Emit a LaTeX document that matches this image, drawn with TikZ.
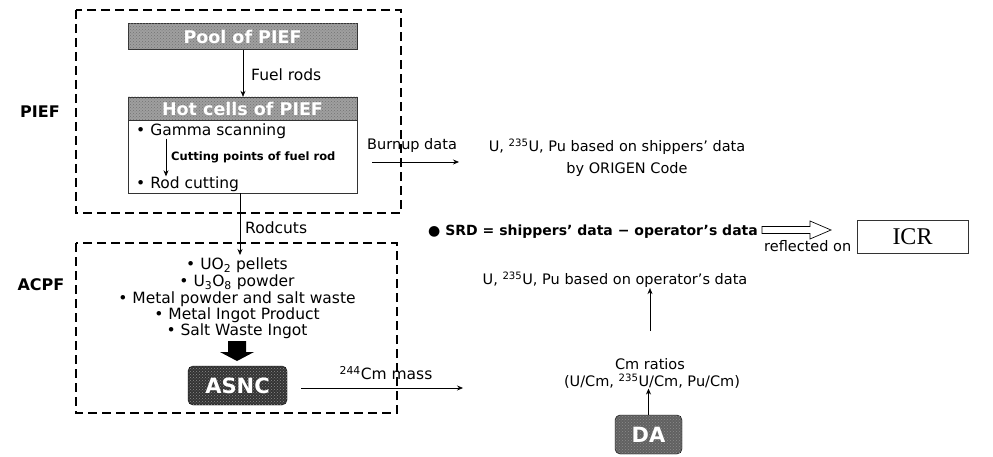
\documentclass[tikz,border=0pt]{standalone}
\usepackage{fontspec}
\setmainfont{DejaVu Sans}
\newfontfamily\serifface{Liberation Serif}
\usetikzlibrary{arrows.meta,patterns}
\begin{document}
\begin{tikzpicture}[x=1pt,y=-1pt,font=\fontsize{15}{17}\selectfont,
  dbox/.style={draw,line width=1.8pt,dash pattern=on 9pt off 5pt},
  graybox/.style={draw=black!80,fill=gray!75,text=white,inner sep=0pt,font=\bfseries\fontsize{17.5}{19}\selectfont,
    postaction={pattern=crosshatch dots,pattern color=black!55}},
  darkbox/.style={draw=black,fill=black!80,text=white,rounded corners=5pt,inner sep=0pt,font=\bfseries\fontsize{21}{23}\selectfont,
    postaction={pattern=crosshatch dots,pattern color=black!45}},
  arr/.style={-{Stealth[length=6pt,width=5pt]},line width=0.7pt},
  txt/.style={inner sep=0pt},
  ltxt/.style={inner sep=0pt,font=\fontsize{15.5}{17}\selectfont},
  rtxt/.style={inner sep=0pt,font=\fontsize{14.5}{16}\selectfont},
  side/.style={inner sep=0pt,font=\bfseries\fontsize{16}{18}\selectfont}]
\useasboundingbox (0,0) rectangle (993,457);
% dashed boxes
\draw[dbox] (76,10) rectangle (401,213);
\draw[dbox] (76,243) rectangle (397,413);
\node[side] (piefl) at (40,112) {PIEF};
\node[side] (acpfl) at (41,285) {ACPF};
% PIEF internals
\node[graybox,minimum width=229pt,minimum height=26pt] (pool) at (242.5,36.5) {Pool of PIEF};
\node[graybox,minimum width=229pt,minimum height=23pt] (hot) at (242.5,108.5) {Hot cells of PIEF};
\node[draw=black!80,line width=0.6pt,minimum width=229pt,minimum height=73pt,inner sep=0pt] (hotbody) at (242.5,156.5) {};
\draw[arr] (pool.south -| 243,0) -- (hot.north -| 243,0);
\node[ltxt,anchor=west] (fuel) at (251,75) {Fuel rods};
\node[ltxt,anchor=west] (gamma) at (136,131) {\textbullet\ Gamma scanning};
\node[ltxt,anchor=west] (rodcut) at (136,184) {\textbullet\ Rod cutting};
\draw[arr,line width=0.6pt] (gamma.south -| 166,0) -- (rodcut.north -| 166,0);
\node[txt,anchor=west,font=\bfseries\fontsize{11.5}{13}\selectfont] (cutpts) at (171,157) {Cutting points of fuel rod};
% ACPF internals
\node[ltxt] (uo2) at (237,265) {\textbullet\ UO\textsubscript{2} pellets};
\node[ltxt] (u3o8) at (237,282) {\textbullet\ U\textsubscript{3}O\textsubscript{8} powder};
\node[ltxt] (metal) at (237,299) {\textbullet\ Metal powder and salt waste};
\node[ltxt] (ingot) at (237,315) {\textbullet\ Metal Ingot Product};
\node[ltxt] (salt) at (237,331) {\textbullet\ Salt Waste Ingot};
\draw[arr] (hotbody.south -| 240,0) -- (240,255);
\node[ltxt,anchor=west] (rodcuts) at (245,228) {Rodcuts};
\fill (228,341) -- (246,341) -- (246,352) -- (254,352) -- (237,361) -- (220,352) -- (228,352) -- cycle;
\node[darkbox,minimum width=99pt,minimum height=39pt] (asnc) at (237.5,385.5) {ASNC};
\coordinate (cmend) at (463,388);
\draw[arr] ([xshift=14pt]asnc.east |- cmend) -- (cmend);
\node[ltxt] (cmmass) at (386,373) {\textsuperscript{244}Cm mass};
% burnup
\coordinate (bstart) at (372,162);
\coordinate (bend) at (459,162);
\draw[arr] (bstart) -- (bend);
\node[rtxt,anchor=west] (burnup) at (367,146) {Burnup data};
\node[rtxt] (ship) at (617,147) {U, \textsuperscript{235}U, Pu based on shippers' data};
\node[rtxt] (origen) at (627,170) {by ORIGEN Code};
% SRD
\node[txt,anchor=west,font=\bfseries\fontsize{14}{16}\selectfont] (srd) at (428,232) {● SRD = shippers' data − operator's data};
\draw[line width=0.7pt] (762,226.5) -- (810,226.5) -- (810,221) -- (831,230) -- (810,239) -- (810,233.5) -- (762,233.5) -- cycle;
\node[rtxt,anchor=west] (refl) at (764,246) {reflected on};
\node[draw=black!80,line width=0.7pt,minimum width=111pt,minimum height=33pt,inner sep=0pt,font=\serifface\fontsize{24}{26}\selectfont] (icr) at (912.5,236.5) {ICR};
% operator side
\node[rtxt] (oper) at (615,280) {U, \textsuperscript{235}U, Pu based on operator's data};
\node[rtxt] (cmrat) at (650,364) {Cm ratios};
\node[rtxt] (cmpar) at (652,381) {(U/Cm, \textsuperscript{235}U/Cm, Pu/Cm)};
\draw[arr] (650,331) -- (oper.south -| 650,0);
\node[darkbox,fill=black!62,minimum width=67pt,minimum height=39pt] (da) at (648.5,434.5) {DA};
\draw[arr] (da.north) -- (cmpar.south -| da.north);
\end{tikzpicture}
\end{document}
